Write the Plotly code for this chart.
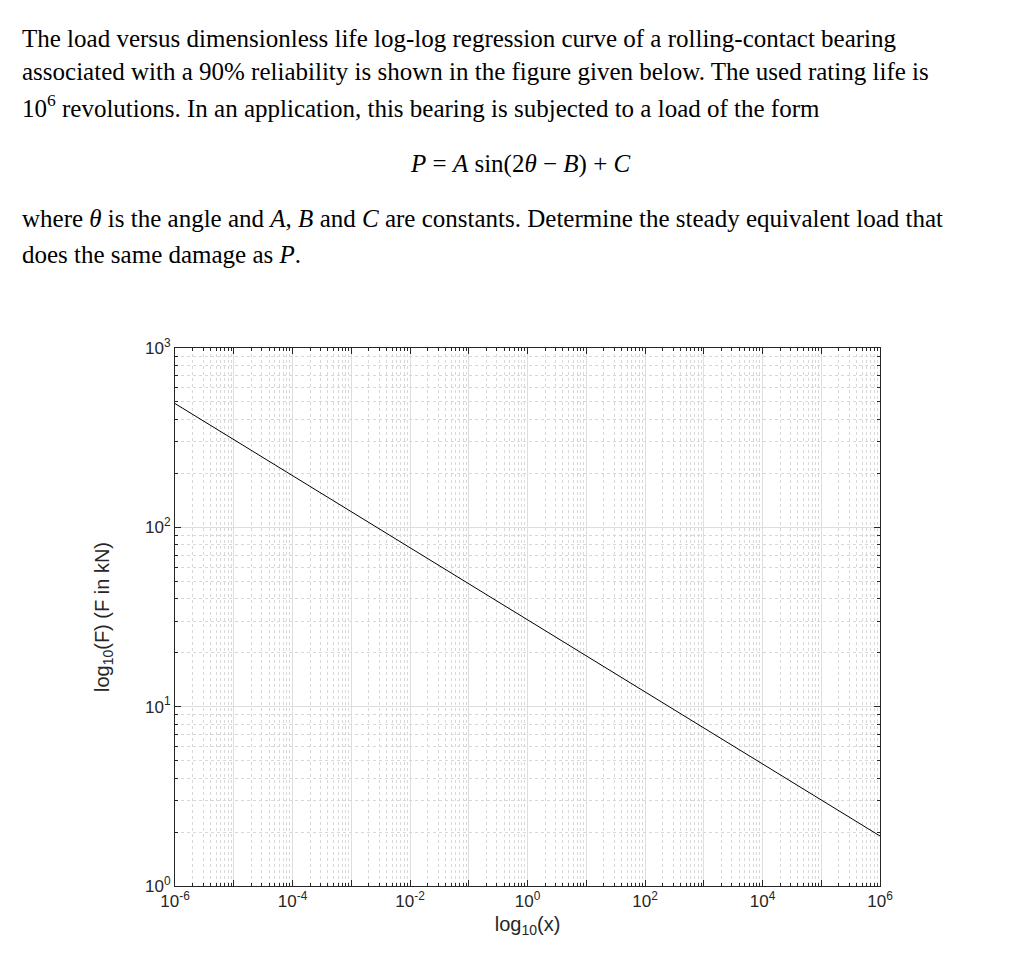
import plotly.graph_objects as go

life_x = [1e-6, 1e6]
load_F = [490, 1.9]
x_decades = list(range(-6, 7))
y_decades = list(range(0, 4))
x_labelled = [-6, -4, -2, 0, 2, 4, 6]
minor_digits = [2, 3, 4, 5, 6, 7, 8, 9]

W, H = 1024, 978
L, R, T, B = 167, 872, 340, 878

xt_vals = [10.0 ** k for k in x_decades]
xt_text = [f"10<sup>{k}</sup>" if k in x_labelled else "" for k in x_decades]
yt_vals = [10.0 ** k for k in y_decades]
yt_text = [f"10<sup>{k}</sup>" for k in y_decades]
x_minor = [m * 10.0 ** k for k in x_decades[:-1] for m in minor_digits]
y_minor = [m * 10.0 ** k for k in y_decades[:-1] for m in minor_digits]

fig = go.Figure(go.Scatter(x=life_x, y=load_F, mode="lines", line=dict(color="black", width=1), showlegend=False))
# invisible trace to anchor overlay axes
fig.add_trace(go.Scatter(x=life_x, y=load_F, xaxis="x2", yaxis="y2", mode="lines",
                         line=dict(width=0), hoverinfo="skip", showlegend=False))

tf = dict(family="Liberation Sans", size=17, color="#262626")
base = dict(type="log", showline=True, linecolor="#262626", linewidth=1, mirror="allticks",
            ticks="inside", ticklen=6, tickcolor="#262626", zeroline=False)
fig.update_layout(
    xaxis=dict(**base, range=[-6, 6], tickvals=xt_vals, ticktext=xt_text, tickfont=tf,
               gridcolor="#dedede", title=dict(text="log<sub>10</sub>(x)", font=dict(family="Liberation Sans", size=20, color="#262626"), standoff=6)),
    yaxis=dict(**base, range=[0, 3], tickvals=yt_vals, ticktext=yt_text, tickfont=tf,
               gridcolor="#dedede", title=dict(text="log<sub>10</sub>(F) (F in kN)", font=dict(family="Liberation Sans", size=20, color="#262626"), standoff=30)),
    xaxis2=dict(type="log", overlaying="x", range=[-6, 6], tickvals=x_minor, showticklabels=False,
                ticks="inside", ticklen=3, tickcolor="#262626", mirror="allticks", showline=False,
                showgrid=True, gridcolor="#d8d8d8", griddash="dot", zeroline=False),
    yaxis2=dict(type="log", overlaying="y", range=[0, 3], tickvals=y_minor, showticklabels=False,
                ticks="inside", ticklen=3, tickcolor="#262626", mirror="allticks", showline=False,
                showgrid=True, gridcolor="#d8d8d8", griddash="dot", zeroline=False),
)

def px(x): return (x - L) / (R - L)
def py(y): return (B - y) / (B - T)

lines = [
    (30, "The load versus dimensionless life log-log regression curve of a rolling-contact bearing", 12, "left"),
    (64, "associated with a 90% reliability is shown in the figure given below. The used rating life is", 12, "left"),
    (98, "10<sup>6</sup> revolutions. In an application, this bearing is subjected to a load of the form", 12, "left"),
    (156, "<i>P</i> = <i>A</i> sin(2<i>θ</i> − <i>B</i>) + <i>C</i>", 512, "center"),
    (211, "where <i>θ</i> is the angle and <i>A</i>, <i>B</i> and <i>C</i> are constants. Determine the steady equivalent load that", 12, "left"),
    (246, "does the same damage as <i>P</i>.", 12, "left"),
]
for yy, txt, xx, anc in lines:
    fig.add_annotation(text=txt, x=px(xx), y=py(yy), xref="paper", yref="paper", xanchor=anc, yanchor="middle",
                       showarrow=False, font=dict(family="Liberation Serif", size=25, color="black"))

fig.update_layout(width=W, height=H, margin=dict(l=L, r=W - R, t=T, b=H - B),
                  plot_bgcolor="white", paper_bgcolor="white")
fig.write_html("out.html")
